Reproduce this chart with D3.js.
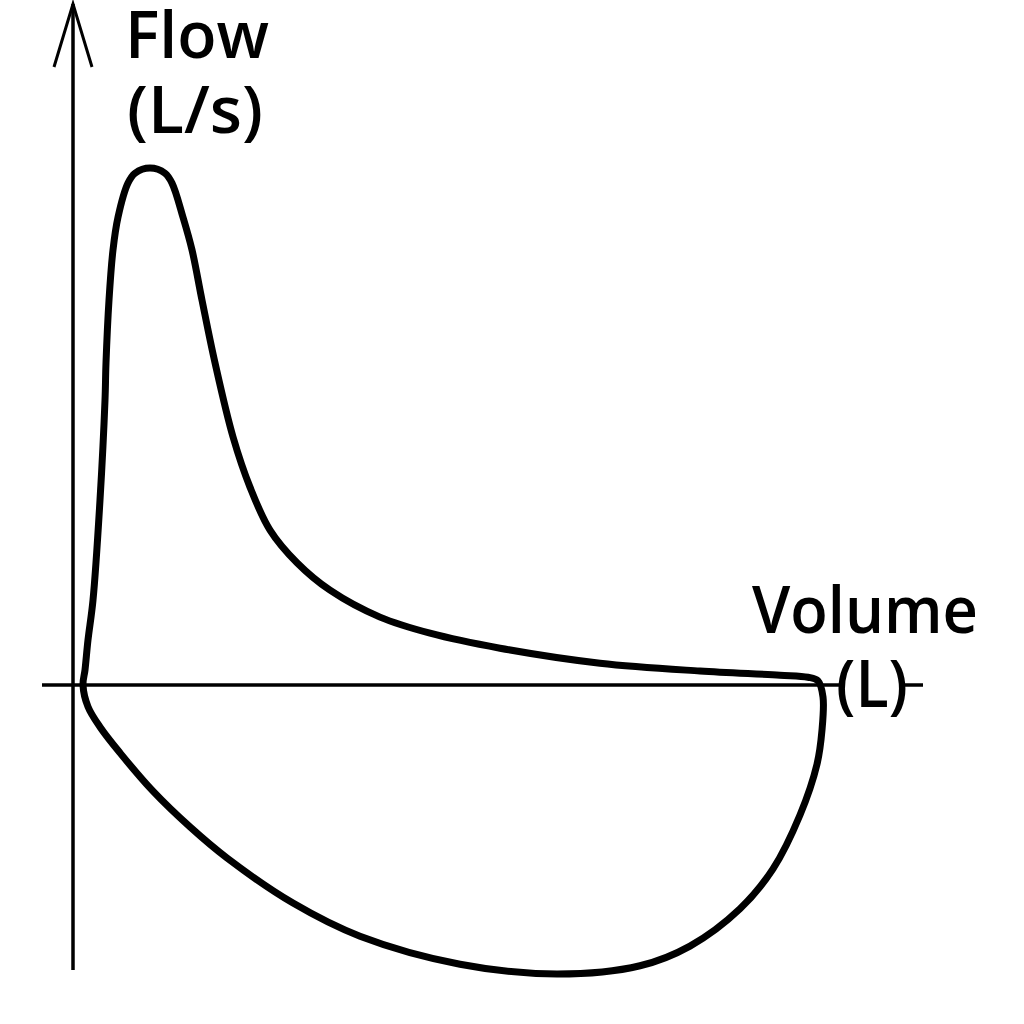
<!DOCTYPE html>
<html><head><meta charset="utf-8">
<script src="https://cdn.jsdelivr.net/npm/d3@7"></script>
<style>html,body{margin:0;padding:0;background:#fff;}svg{display:block;}</style>
</head><body>
<svg id="c" width="1024" height="1024"></svg>
<script>
// Flow-volume loop: volume (L) and flow (L/s), traced clockwise from the origin
const volume = [0.08,0.096,0.12,0.16,0.216,0.256,0.264,0.288,0.32,0.36,0.44,0.496,0.616,0.736,0.792,0.88,0.952,1.032,1.136,1.28,1.416,1.576,1.792,2.056,2.456,2.856,3.416,4.216,5.016,5.656,5.88,5.96,6.0,
                5.992,5.952,5.816,5.6,5.336,4.936,4.536,3.872,3.096,2.296,1.76,1.232,0.936,0.64,0.376,0.216,0.12];
const flow   = [0,0.29,0.87,1.64,3.57,5.5,6.22,7.43,8.4,9.03,9.69,9.88,9.98,9.88,9.69,9.03,8.4,7.43,6.22,4.79,3.82,2.99,2.36,1.83,1.31,1.0,0.71,0.42,0.27,0.19,0.15,0.08,-0.23,
                -0.87,-1.53,-2.51,-3.55,-4.32,-5.04,-5.42,-5.58,-5.39,-4.85,-4.21,-3.34,-2.74,-2.05,-1.31,-0.81,-0.42];
const yLabel = ["Flow", "(L/s)"];
const xLabel = ["Volume", "(L)"];

const svg = d3.select("#c");
const x = d3.scaleLinear().domain([0, 6]).range([73, 823]);
const y = d3.scaleLinear().domain([0, 10]).range([685, 167]);

const axisCol = "#000";
// y axis
svg.append("line").attr("x1", x(0)).attr("x2", x(0)).attr("y1", 4).attr("y2", 970)
  .attr("stroke", axisCol).attr("stroke-width", 3.5);
// arrow head (open)
svg.append("path").attr("d", `M${x(0)-19},67 L${x(0)},4 L${x(0)+19},67`)
  .attr("fill", "none").attr("stroke", axisCol).attr("stroke-width", 3);
// x axis
svg.append("line").attr("x1", 42).attr("x2", 923).attr("y1", y(0)).attr("y2", y(0))
  .attr("stroke", axisCol).attr("stroke-width", 3.5);

// loop
const pts = volume.map((v, i) => [v, flow[i]]);
const line = d3.line().x(d => x(d[0])).y(d => y(d[1])).curve(d3.curveCatmullRomClosed.alpha(0.5));
svg.append("path").attr("d", line(pts)).attr("fill", "none").attr("stroke", "#000")
  .attr("stroke-width", 7).attr("stroke-linejoin", "round");

const font = "'Open Sans', sans-serif";
const fs = 66;
function label(txt, tx, ty, len) {
  svg.append("text").attr("x", tx).attr("y", ty).text(txt)
    .attr("font-family", font).attr("font-size", fs).attr("font-weight", 600)
    .attr("textLength", len).attr("lengthAdjust", "spacingAndGlyphs");
}
label(yLabel[0], 125, 58, 144);
label(yLabel[1], 127, 133, 136);
label(xLabel[0], 752, 633, 226);
svg.append("rect").attr("x", 842).attr("y", 660).attr("width", 62).attr("height", 52).attr("fill", "#fff");
label(xLabel[1], 836, 707, 72);
</script>
</body></html>
